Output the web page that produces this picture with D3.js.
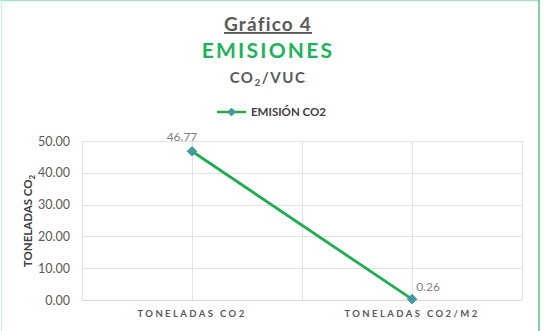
<!DOCTYPE html>
<html>
<head>
<meta charset="utf-8">
<script src="https://cdn.jsdelivr.net/npm/d3@7"></script>
<style>
  body { margin: 0; background: #fff; }
  text { font-family: Lato, "Open Sans", sans-serif; }
</style>
</head>
<body>
<div id="svg-container"></div>
<script>
// data
var categories = ["TONELADAS CO2", "TONELADAS CO2/M2"];
var emisiones  = [46.77, 0.26];
var yTicks     = [0, 10, 20, 30, 40, 50];
var seriesName = "EMISIÓN CO2";

var svgWidth  = 546;
var svgHeight = 331;
var margin    = { left: 82, right: 24, top: 141, bottom: 31 };
var plotW     = svgWidth - margin.left - margin.right;   // 440
var plotH     = svgHeight - margin.top - margin.bottom;  // 159

var lineColor   = "#20ad50";
var markerColor = "#4b93b3";
var gridColor   = "#e3e3e3";
var textGray    = "#595959";

var svg = d3.select("#svg-container")
  .append("svg")
  .attr("width", svgWidth)
  .attr("height", svgHeight);

// frame of the chart
svg.append("line").attr("x1", 0).attr("x2", 540).attr("y1", 0.5).attr("y2", 0.5)
  .attr("stroke", "#a8e0c4").attr("stroke-width", 1.5);
svg.append("line").attr("x1", 1.5).attr("x2", 1.5).attr("y1", 0).attr("y2", svgHeight)
  .attr("stroke", "#d4efe2").attr("stroke-width", 1.5);
svg.append("line").attr("x1", 539).attr("x2", 539).attr("y1", 0).attr("y2", svgHeight)
  .attr("stroke", "#7fd2a6").attr("stroke-width", 2);

// titles
svg.append("text")
  .attr("x", 268).attr("y", 31)
  .attr("text-anchor", "middle")
  .attr("font-size", 19).attr("font-weight", "bold")
  .attr("letter-spacing", 1.2)
  .attr("fill", textGray)
  .attr("text-decoration", "underline")
  .text("Gráfico 4");

svg.append("text")
  .attr("x", 268).attr("y", 58)
  .attr("text-anchor", "middle")
  .attr("font-size", 21).attr("font-weight", "bold")
  .attr("letter-spacing", 2.2)
  .attr("fill", "#1eb25a")
  .text("EMISIONES");

var sub = svg.append("text")
  .attr("x", 268).attr("y", 83)
  .attr("text-anchor", "middle")
  .attr("font-size", 15).attr("font-weight", "bold")
  .attr("letter-spacing", 1.5)
  .attr("fill", textGray);
sub.append("tspan").text("CO");
sub.append("tspan").attr("font-size", 10).attr("dy", 3).text("2");
sub.append("tspan").attr("dy", -3).text("/VUC");

// legend
var legend = svg.append("g").attr("transform", "translate(217,112)");
legend.append("line").attr("x1", 0).attr("x2", 29).attr("y1", 0).attr("y2", 0)
  .attr("stroke", lineColor).attr("stroke-width", 2.5);
legend.append("path")
  .attr("d", d3.symbol().type(d3.symbolDiamond2).size(40)())
  .attr("transform", "translate(14.5,0)")
  .attr("fill", markerColor).attr("stroke", lineColor).attr("stroke-width", 0.8);
legend.append("text")
  .attr("x", 34).attr("y", 4)
  .attr("font-size", 11.5).attr("font-weight", "bold")
  .attr("fill", "#404040")
  .text(seriesName);

// scales
var xScale = d3.scaleBand()
  .domain(categories)
  .range([0, plotW]);

var yScale = d3.scaleLinear()
  .domain([0, 50])
  .range([plotH, 0]);

var plot = svg.append("g")
  .attr("transform", "translate(" + margin.left + "," + margin.top + ")");

// horizontal gridlines
plot.selectAll(".hgrid")
  .data(yTicks)
  .enter()
  .append("line")
  .attr("x1", 0).attr("x2", plotW)
  .attr("y1", function(d) { return Math.round(yScale(d)) + 0.5; })
  .attr("y2", function(d) { return Math.round(yScale(d)) + 0.5; })
  .attr("stroke", function(d) { return d === 0 ? "#d9d9d9" : gridColor; })
  .attr("stroke-width", 1);

// vertical gridlines at band edges and centres
var vLines = [0, plotW];
categories.forEach(function(c) {
  vLines.push(xScale(c));
  vLines.push(xScale(c) + xScale.bandwidth() / 2);
});
plot.selectAll(".vgrid")
  .data(vLines)
  .enter()
  .append("line")
  .attr("x1", function(d) { return Math.round(d) + 0.5; })
  .attr("x2", function(d) { return Math.round(d) + 0.5; })
  .attr("y1", 0).attr("y2", plotH)
  .attr("stroke", gridColor).attr("stroke-width", 1);

// y axis
var yAxis = d3.axisLeft(yScale)
  .tickValues(yTicks)
  .tickSize(0)
  .tickPadding(12)
  .tickFormat(d3.format(".2f"));

var yAxisGroup = plot.append("g").call(yAxis);
yAxisGroup.select(".domain").remove();
yAxisGroup.selectAll("text")
  .attr("font-family", "Lato, 'Open Sans', sans-serif")
  .attr("font-size", 12.5)
  .attr("fill", textGray);

// x axis
var xAxis = d3.axisBottom(xScale).tickSize(0).tickPadding(10);
var xAxisGroup = plot.append("g")
  .attr("transform", "translate(0," + plotH + ")")
  .call(xAxis);
xAxisGroup.select(".domain").remove();
xAxisGroup.selectAll("text")
  .attr("font-family", "Lato, 'Open Sans', sans-serif")
  .attr("font-size", 9.5)
  .attr("font-weight", "bold")
  .attr("letter-spacing", 2.4)
  .attr("fill", textGray);

// y axis title
var yTitle = svg.append("text")
  .attr("transform", "translate(32,221) rotate(-90)")
  .attr("text-anchor", "middle")
  .attr("font-size", 11.5).attr("font-weight", "bold")
  .attr("fill", "#404040");
yTitle.append("tspan").text("TONELADAS CO");
yTitle.append("tspan").attr("font-size", 8).attr("dy", 3).text("2");

// series line
var cx = function(d, i) { return xScale(categories[i]) + xScale.bandwidth() / 2; };
var line = d3.line()
  .x(function(d, i) { return cx(d, i); })
  .y(function(d) { return yScale(d); });

plot.append("path")
  .datum(emisiones)
  .attr("d", line)
  .attr("fill", "none")
  .attr("stroke", lineColor)
  .attr("stroke-width", 2.8);

plot.selectAll(".marker")
  .data(emisiones)
  .enter()
  .append("path")
  .attr("d", d3.symbol().type(d3.symbolDiamond2).size(60)())
  .attr("transform", function(d, i) { return "translate(" + cx(d, i) + "," + yScale(d) + ")"; })
  .attr("fill", markerColor)
  .attr("stroke", lineColor)
  .attr("stroke-width", 0.8);

// data labels
plot.selectAll(".label")
  .data(emisiones)
  .enter()
  .append("text")
  .attr("x", function(d, i) { return i === 0 ? cx(d, i) - 10 : cx(d, i) + 16; })
  .attr("y", function(d, i) { return i === 0 ? yScale(d) - 10 : yScale(d) - 8; })
  .attr("text-anchor", "middle")
  .attr("font-size", 12)
  .attr("fill", "#7f7f7f")
  .text(function(d) { return d3.format(".2f")(d); });
</script>
</body>
</html>
